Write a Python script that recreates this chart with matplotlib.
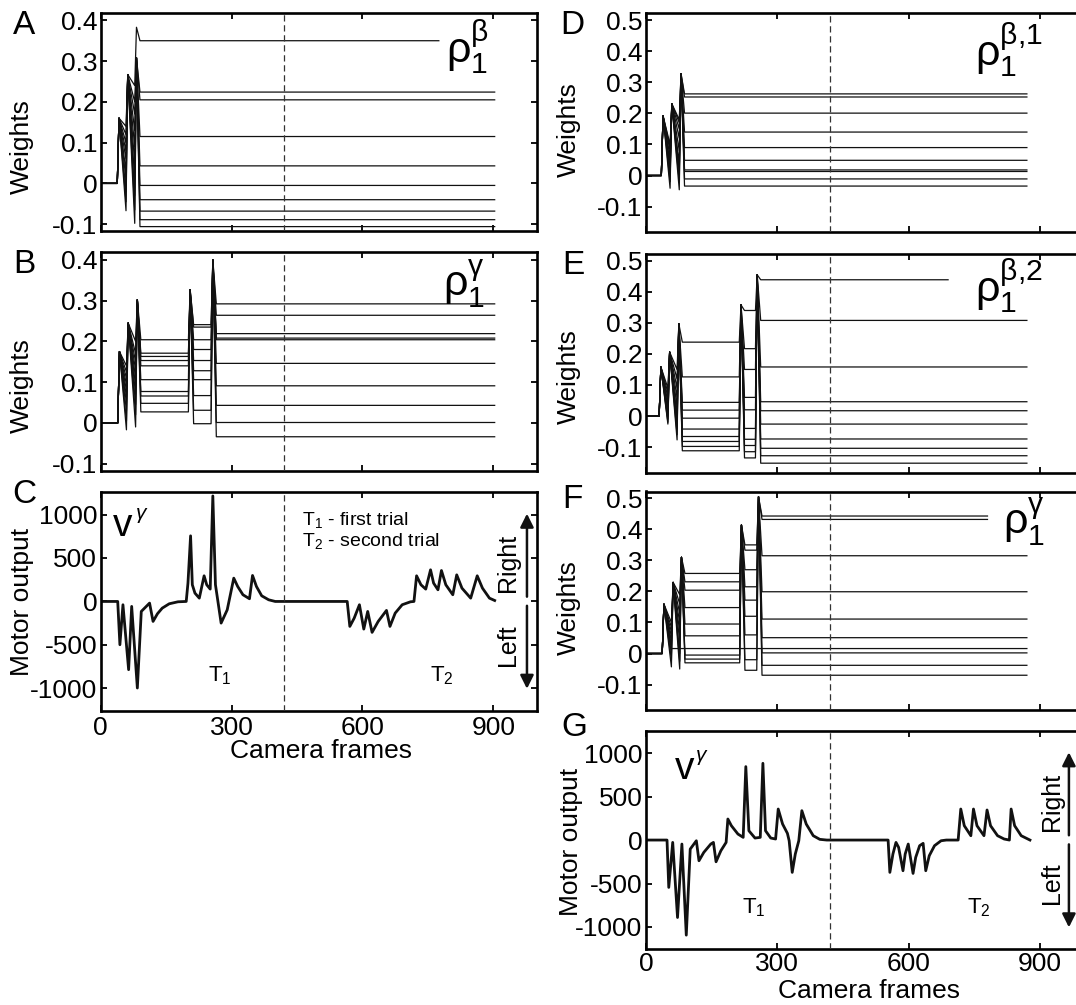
import numpy as np
from matplotlib import pyplot as plt

plt.rcParams['font.family'] = ['Liberation Sans', 'DejaVu Sans']
plt.rcParams['mathtext.fontset'] = 'custom'
plt.rcParams['mathtext.rm'] = 'Liberation Sans'
plt.rcParams['mathtext.it'] = 'Liberation Sans:italic'
plt.rcParams['mathtext.bf'] = 'Liberation Sans:bold'
plt.rcParams['axes.unicode_minus'] = False

# ---------------------------------------------------------------- data
FRAME_TICKS = [0, 300, 600, 900]
TRIAL_SPLIT = 420                      # frame where the second trial starts
W_TICKS_LEFT = [-0.1, 0, 0.1, 0.2, 0.3, 0.4]
W_TICKS_RIGHT = [-0.1, 0, 0.1, 0.2, 0.3, 0.4, 0.5]
MOTOR_TICKS = [-1000, -500, 0, 500, 1000]

# weights: frames of the jumps, peak after each jump, level reached by each weight
A_EVENTS = [38, 58, 78]
A_PEAKS = [[0.16, 0.267, 0.383]] + [[0.16, 0.267, 0.308]] * 9
A_LEVELS = [
    [0.14, 0.24, 0.350],
    [0.12, 0.20, 0.224],
    [0.10, 0.17, 0.205],
    [0.08, 0.13, 0.115],
    [0.06, 0.09, 0.043],
    [0.03, 0.05, -0.005],
    [0.01, 0.01, -0.040],
    [-0.02, -0.03, -0.068],
    [-0.045, -0.065, -0.089],
    [-0.067, -0.098, -0.106],
]
A_ENDS = [775] + [903] * 9

B_EVENTS = [39, 59, 80, 201, 253]
B_PEAKS = [0.175, 0.245, 0.302, 0.327, 0.40]
B_LEVELS = [
    [0.14, 0.20, 0.204, 0.241, 0.292],
    [0.125, 0.17, 0.171, 0.235, 0.264],
    [0.11, 0.15, 0.163, 0.204, 0.219],
    [0.095, 0.13, 0.153, 0.18, 0.208],
    [0.08, 0.11, 0.140, 0.153, 0.204],
    [0.065, 0.09, 0.106, 0.128, 0.146],
    [0.05, 0.07, 0.077, 0.106, 0.091],
    [0.03, 0.045, 0.066, 0.067, 0.043],
    [0.005, 0.02, 0.048, 0.031, 0.001],
    [-0.017, -0.01, 0.027, -0.002, -0.034],
]
B_ENDS = [903] * 10

D_EVENTS = [35, 55, 76]
D_PEAKS = [0.192, 0.231, 0.328]
D_LEVELS = [
    [0.10, 0.18, 0.263],
    [0.09, 0.17, 0.253],
    [0.08, 0.15, 0.201],
    [0.06, 0.12, 0.140],
    [0.04, 0.08, 0.090],
    [0.02, 0.04, 0.049],
    [0.018, 0.018, 0.018],
    [0.0, 0.01, 0.013],
    [-0.02, -0.02, -0.011],
    [-0.041, -0.046, -0.034],
]
D_ENDS = [870] * 10

E_EVENTS = [30, 50, 71, 213, 250]
E_PEAKS = [0.158, 0.206, 0.297, 0.358, 0.455]
E_LEVELS = [
    [0.09, 0.15, 0.238, 0.34, 0.439],
    [0.075, 0.12, 0.126, 0.217, 0.308],
    [0.06, 0.09, 0.044, 0.15, 0.158],
    [0.045, 0.06, 0.019, 0.06, 0.046],
    [0.03, 0.03, -0.007, 0.02, 0.017],
    [0.015, 0.0, -0.042, -0.04, -0.026],
    [0.0, -0.02, -0.066, -0.075, -0.074],
    [-0.01, -0.04, -0.082, -0.095, -0.104],
    [-0.02, -0.06, -0.098, -0.115, -0.128],
    [-0.026, -0.077, -0.112, -0.135, -0.152],
]
E_ENDS = [690] + [870] * 9

F_EVENTS = [37, 58, 77, 214, 253]
F_PEAKS = [[0.159, 0.229, 0.31, 0.414, 0.505]] * 6 + \
          [[0.159, 0.016, 0.016, 0.016, 0.016]] + \
          [[0.159, 0.229, 0.31, 0.414, 0.505]] * 3
F_LEVELS = [
    [0.10, 0.19, 0.258, 0.35, 0.443],
    [0.085, 0.16, 0.231, 0.333, 0.432],
    [0.07, 0.13, 0.204, 0.27, 0.315],
    [0.055, 0.10, 0.148, 0.215, 0.199],
    [0.04, 0.07, 0.095, 0.172, 0.111],
    [0.025, 0.04, 0.057, 0.12, 0.051],
    [0.016, 0.016, 0.016, 0.016, 0.016],
    [0.0, 0.0, -0.005, 0.06, 0.002],
    [-0.02, -0.025, -0.018, -0.02, -0.038],
    [-0.043, -0.05, -0.030, -0.054, -0.070],
]
F_ENDS = [780, 780] + [870] * 8

# motor output v^gamma
C_FRAMES = [0, 39, 44, 51, 64, 71, 84, 93, 112, 120, 130, 141, 157, 177,
            196, 200, 206, 210, 216, 226, 237, 243, 251, 257, 263, 267, 276,
            290, 305, 314, 326, 341, 348, 357, 369, 385, 400,
            565, 571, 581, 593, 603, 612, 622, 636, 655, 663, 675, 691, 710,
            718, 724, 734, 745, 756, 763, 773, 781, 791, 807, 816, 828, 848,
            863, 875, 891, 903]
C_OUTPUT = [0, 0, -498, -38, -785, -57, -996, -115, -19, -230, -142, -77, -27, -4,
            0, 211, 755, 192, 96, 38, 295, 192, 142, 1214, 192, 57, -249,
            -96, 268, 172, 77, 31, 299, 172, 65, 19, 0,
            0, -287, -192, -38, -318, -115, -356, -230, -103, -287, -134, -38, -4,
            0, 295, 192, 142, 364, 211, 134, 356, 192, 77, 306, 153, 38,
            295, 153, 38, 11]

G_FRAMES = [0, 48, 52, 61, 72, 82, 92, 101, 115, 121, 132, 148, 154, 160, 171,
            183, 187, 195, 210, 222, 228, 235, 249, 261, 267, 273, 285, 296,
            302, 312, 323, 327, 334, 341, 349, 356, 366, 382, 397, 413,
            553, 557, 564, 571, 577, 587, 592, 599, 610, 616, 625, 633, 639,
            647, 659, 674, 686, 713, 719, 727, 742, 748, 756, 772, 779, 787,
            803, 818, 830, 834, 842, 857, 877]
G_OUTPUT = [0, 0, -545, -27, -891, -46, -1094, -104, -8, -238, -142, -46, -27, -250, -123,
            -27, 242, 165, 69, 31, 845, 107, 23, 31, 883, 107, 23, 12,
            357, 184, 77, -8, -372, -161, -8, 338, 184, 50, 8, 0,
            0, -372, -161, -27, -84, -353, -161, -46, -384, -200, -65, -38, -353,
            -180, -65, -8, 0, 0, 357, 165, 50, 357, 165, 50, 346, 165,
            50, 12, 0, 357, 165, 50, 0]

# ---------------------------------------------------------------- drawing
W, H = 1076, 1005
RISE = 4      # frames from a jump to its peak
SETTLE = 12   # frames for a weight to relax onto its new level


def px_axes(fig, left, top, width, height):
    return fig.add_axes([left / W, 1 - (top + height) / H, width / W, height / H])


def weight_trace(events, peaks, levels, end):
    xs, ys = [0, events[0]], [0.0, 0.0]
    for k, t in enumerate(events):
        nxt = events[k + 1] if k + 1 < len(events) else end
        xs.append(t + RISE)
        ys.append(peaks[k])
        if nxt - t > 30:
            xs.append(t + SETTLE)
            ys.append(levels[k])
        xs.append(nxt)
        ys.append(levels[k])
    return xs, ys


def draw_weights(ax, events, peaks, levels, ends):
    peaks = np.broadcast_to(np.asarray(peaks, float), np.shape(levels))
    for p, lv, end in zip(peaks, levels, ends):
        xs, ys = weight_trace(events, p, lv, end)
        ax.plot(xs, ys, color='#111111', lw=0.9, solid_joinstyle='round')


def style(ax, ylim, yticks, xlabels=False):
    ax.set_xlim(0, 1000)
    ax.set_ylim(*ylim)
    ax.set_xticks(FRAME_TICKS)
    ax.set_yticks(yticks)
    ax.set_yticklabels([f'{v:g}' for v in yticks])
    ax.tick_params(direction='in', top=True, right=True, length=4.5, width=1.3)
    ax.tick_params(axis='y', labelsize=19, pad=2.5)
    ax.tick_params(axis='x', labelsize=19, pad=4, labelbottom=xlabels)
    for s in ax.spines.values():
        s.set_linewidth(1.9)
    ax.axvline(TRIAL_SPLIT, color='#333333', lw=0.9, ls=(0, (5, 3)), zorder=3)


def motor_panel(ax, frames, output, v_pos, gamma_pos, t_y, arrow_x, txt_x):
    ax.plot(frames, output, color='#111111', lw=2.0, solid_joinstyle='round')
    style(ax, (-1257, 1257), MOTOR_TICKS, xlabels=True)
    ax.set_ylabel('Motor output', fontsize=19)
    ax.text(*v_pos, 'v', fontsize=28, ha='left', va='baseline')
    ax.text(*gamma_pos, r'$\gamma$', fontsize=15, ha='left', va='baseline')
    ax.text(t_y[0], t_y[2], r'T$_{1}$', fontsize=16, ha='center', va='center')
    ax.text(t_y[1], t_y[2], r'T$_{2}$', fontsize=16, ha='center', va='center')
    arrow = dict(arrowstyle='-|>', lw=1.8, color='#111111', mutation_scale=20,
                 shrinkA=0, shrinkB=0)
    ax.annotate('', xy=(arrow_x, 1010), xytext=(arrow_x, 55), arrowprops=arrow)
    ax.annotate('', xy=(arrow_x, -1005), xytext=(arrow_x, -50), arrowprops=arrow)
    ax.text(txt_x, 440, 'Right', rotation=90, fontsize=18, ha='center', va='center')
    ax.text(txt_x, -500, 'Left', rotation=90, fontsize=18, ha='center', va='center')
    ax.set_xlabel('Camera frames', fontsize=19)


def rho(ax, x, y, sup):
    ax.text(x, y, r'$\mathrm{\rho}_{1}^{\mathrm{' + sup + '}}$', fontsize=31,
            ha='left', va='baseline')


fig = plt.figure(figsize=(W / 100, H / 100), dpi=100)

LEFT_X, LEFT_W = 100.7, 436.3
RIGHT_X, RIGHT_W = 646, 437.8

ax_a = px_axes(fig, LEFT_X, 13, LEFT_W, 218.5)
ax_b = px_axes(fig, LEFT_X, 252.5, LEFT_W, 218.5)
ax_c = px_axes(fig, LEFT_X, 492.2, LEFT_W, 218.5)
ax_d = px_axes(fig, RIGHT_X, 13.5, RIGHT_W, 218.5)
ax_e = px_axes(fig, RIGHT_X, 254, RIGHT_W, 218.5)
ax_f = px_axes(fig, RIGHT_X, 491.5, RIGHT_W, 218.5)
ax_g = px_axes(fig, RIGHT_X, 730.8, RIGHT_W, 218.5)

draw_weights(ax_a, A_EVENTS, A_PEAKS, A_LEVELS, A_ENDS)
draw_weights(ax_b, B_EVENTS, B_PEAKS, B_LEVELS, B_ENDS)
draw_weights(ax_d, D_EVENTS, D_PEAKS, D_LEVELS, D_ENDS)
draw_weights(ax_e, E_EVENTS, E_PEAKS, E_LEVELS, E_ENDS)
draw_weights(ax_f, F_EVENTS, F_PEAKS, F_LEVELS, F_ENDS)

for ax in (ax_a, ax_b):
    style(ax, (-0.118, 0.418), W_TICKS_LEFT)
for ax in (ax_d, ax_e, ax_f):
    style(ax, (-0.182, 0.522), W_TICKS_RIGHT)

for ax, ly in ((ax_a, 0.39), (ax_b, 0.39), (ax_d, 0.47), (ax_e, 0.44), (ax_f, 0.47)):
    ax.set_ylabel('Weights', fontsize=19)
    ax.yaxis.set_label_coords(-0.152 if ax in (ax_a, ax_b) else -0.148, ly)

rho(ax_a, 792, 0.296, r'\beta')
rho(ax_b, 785, 0.31, r'\gamma')
rho(ax_d, 752, 0.352, r'\beta{,}1')
rho(ax_e, 752, 0.366, r'\beta{,}2')
rho(ax_f, 815, 0.382, r'\gamma')

motor_panel(ax_c, C_FRAMES, C_OUTPUT, (27, 750), (78, 950), (272, 781, -850), 977, 934)
motor_panel(ax_g, G_FRAMES, G_OUTPUT, (66, 700), (113, 914), (247, 760, -775), 966, 928)
ax_c.text(461, 939, r'T$_{1}$ - first trial', fontsize=14, ha='left', va='center')
ax_c.text(461, 690, r'T$_{2}$ - second trial', fontsize=14, ha='left', va='center')

ax_c.yaxis.set_label_coords(-0.152, 0.5)
ax_g.yaxis.set_label_coords(-0.145, 0.49)
ax_c.xaxis.set_label_coords(0.505, -0.13)
ax_g.xaxis.set_label_coords(0.51, -0.137)
ax_g.tick_params(axis='x', pad=2)

for letter, x, y in (('A', 24, 26), ('B', 24, 264), ('C', 24, 494),
                     ('D', 572, 26), ('E', 573, 266), ('F', 572, 500), ('G', 574, 727)):
    fig.text(x / W, 1 - y / H, letter, fontsize=24, ha='center', va='center')

fig.savefig('out.png', dpi=100)
